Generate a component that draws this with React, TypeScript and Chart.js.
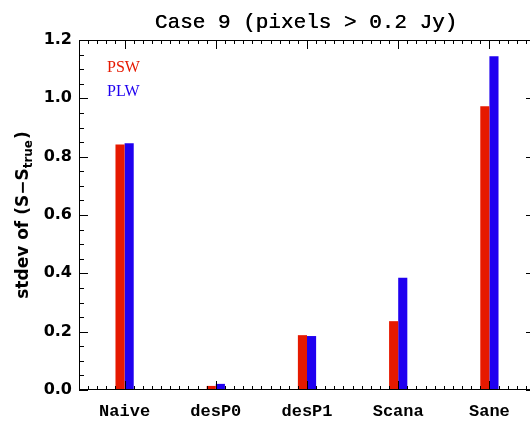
import { useEffect, useRef } from 'react';
import { Chart, registerables } from 'chart.js';

Chart.register(...registerables);

const categories = ['Naive', 'desP0', 'desP1', 'Scana', 'Sane'];
const pswValues = [0.842, 0.014, 0.188, 0.236, 0.973];
const plwValues = [0.846, 0.021, 0.185, 0.385, 1.144];
const seriesLabels = ['PSW', 'PLW'];
const seriesColors = ['#e61900', '#1f00f0'];
const yMin = 0;
const yMax = 1.2;
const yStep = 0.2;
const titleText = 'Case 9 (pixels > 0.2 Jy)';
const yTitleMain = 'stdev of (S\u2212S';
const yTitleSub = 'true';
const yTitleEnd = ')';

const decorPlugin = {
  id: 'decor',
  afterDatasetsDraw(chart: any) {
    const { ctx, chartArea: a, scales } = chart;
    const xs = scales.x;
    const ys = scales.y;
    ctx.save();
    ctx.strokeStyle = '#000';
    ctx.lineWidth = 1;
    ctx.beginPath();
    ctx.rect(a.left + 0.5, a.top + 0.5, a.right - a.left - 1, a.bottom - a.top - 1);
    // y ticks every 0.05, majors every 0.2
    const nMinor = Math.round((yMax - yMin) / 0.05);
    for (let i = 0; i <= nMinor; i++) {
      const v = yMin + i * 0.05;
      const py = Math.round(ys.getPixelForValue(v)) + 0.5;
      const len = i % 4 === 0 ? 9 : 5;
      ctx.moveTo(a.left, py);
      ctx.lineTo(a.left + len, py);
      ctx.moveTo(a.right, py);
      ctx.lineTo(a.right - len, py);
    }
    // x ticks: majors at category centers, 10 minors per category
    const n = categories.length;
    for (let k = -5; k <= n * 10 - 5; k++) {
      const v = k / 10;
      const px = Math.round(xs.getPixelForValue(v)) + 0.5;
      const len = k % 10 === 0 ? 9 : 4;
      ctx.moveTo(px, a.bottom);
      ctx.lineTo(px, a.bottom - len);
      ctx.moveTo(px, a.top);
      ctx.lineTo(px, a.top + len);
    }
    ctx.stroke();

    // title
    ctx.fillStyle = '#000';
    ctx.font = '21px "Liberation Mono"';
    ctx.textAlign = 'center';
    ctx.textBaseline = 'alphabetic';
    ctx.fillText(titleText, (a.left + a.right) / 2 - 1, 28);
    ctx.fillText(titleText, (a.left + a.right) / 2 - 0.6, 28);

    // legend text
    ctx.font = '16px "Liberation Serif"';
    ctx.textAlign = 'left';
    ctx.textBaseline = 'middle';
    chart.data.datasets.forEach((ds: any, i: number) => {
      ctx.fillStyle = ds.backgroundColor;
      ctx.fillText(ds.label, a.left + 28, 68 + i * 24);
    });

    // y axis title with subscript
    ctx.fillStyle = '#000';
    const mainFont = 'bold 17px "DejaVu Sans"';
    const subFont = 'bold 12px "DejaVu Sans"';
    ctx.font = mainFont;
    const w1 = ctx.measureText(yTitleMain).width;
    const w3 = ctx.measureText(yTitleEnd).width;
    ctx.font = subFont;
    const w2 = ctx.measureText(yTitleSub).width;
    const total = w1 + w2 + w3 + 1;
    ctx.translate(28, (a.top + a.bottom) / 2);
    ctx.rotate(-Math.PI / 2);
    ctx.textAlign = 'left';
    ctx.textBaseline = 'alphabetic';
    let cx = -total / 2;
    ctx.font = mainFont;
    ctx.fillText(yTitleMain, cx, 0);
    cx += w1;
    ctx.font = subFont;
    ctx.fillText(yTitleSub, cx, 4);
    cx += w2 + 1;
    ctx.font = mainFont;
    ctx.fillText(yTitleEnd, cx, 0);
    ctx.restore();
  },
};

export default function App() {
  const ref = useRef<HTMLCanvasElement>(null);
  useEffect(() => {
    document.body.style.margin = '0';
    const chart = new Chart(ref.current as HTMLCanvasElement, {
      type: 'bar',
      data: {
        labels: categories,
        datasets: [
          {
            label: seriesLabels[0],
            data: pswValues,
            backgroundColor: seriesColors[0],
            borderWidth: 0,
            categoryPercentage: 0.2,
            barPercentage: 1,
          },
          {
            label: seriesLabels[1],
            data: plwValues,
            backgroundColor: seriesColors[1],
            borderWidth: 0,
            categoryPercentage: 0.2,
            barPercentage: 1,
          },
        ],
      },
      options: {
        animation: false,
        responsive: false,
        devicePixelRatio: 1,
        layout: { padding: { top: 40, right: 5, left: 0, bottom: 0 } },
        plugins: {
          legend: { display: false },
          tooltip: { enabled: false },
          title: { display: false },
        },
        scales: {
          x: {
            grid: { display: false, drawTicks: false },
            border: { display: false },
            ticks: {
              color: '#000',
              padding: 12,
              maxRotation: 0,
              font: { family: '"Liberation Mono"', size: 17, weight: 'bold' },
            },
            afterFit: (s: any) => {
              s.height = 33;
            },
          },
          y: {
            min: yMin,
            max: yMax,
            grid: { display: false, drawTicks: false },
            border: { display: false },
            ticks: {
              stepSize: yStep,
              color: '#000',
              padding: 7,
              font: { family: '"DejaVu Sans"', size: 16, weight: 'bold' },
              callback: (v: any) => Number(v).toFixed(1),
            },
            afterFit: (s: any) => {
              s.width = 79;
            },
          },
        },
      },
      plugins: [decorPlugin],
    });
    return () => chart.destroy();
  }, []);
  return (
    <div style={{ width: 530, height: 423, overflow: 'hidden' }}>
      <canvas ref={ref} width={540} height={423} style={{ display: 'block' }} />
    </div>
  );
}
